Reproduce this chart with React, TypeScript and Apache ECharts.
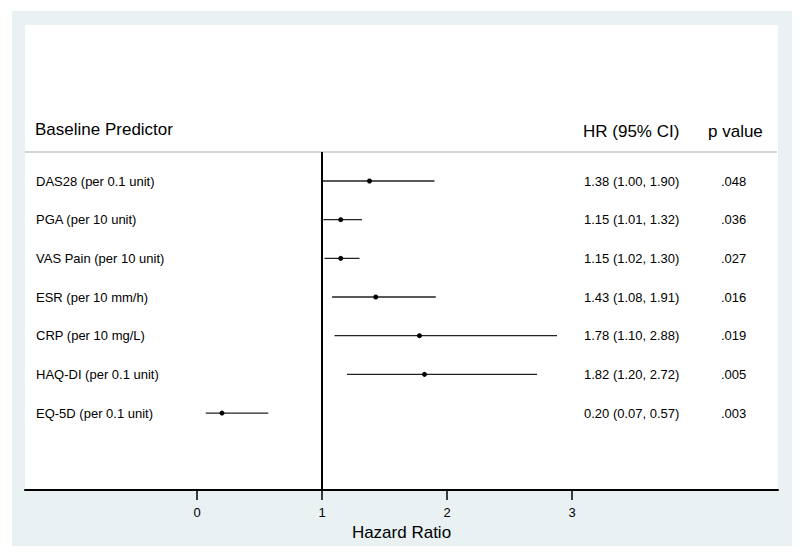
import React, { useEffect, useRef } from "react";
import * as echarts from "echarts";

const predictors = [
  "DAS28 (per 0.1 unit)",
  "PGA (per 10 unit)",
  "VAS Pain (per 10 unit)",
  "ESR (per 10 mm/h)",
  "CRP (per 10 mg/L)",
  "HAQ-DI (per 0.1 unit)",
  "EQ-5D (per 0.1 unit)",
];
const hazardRatios = [1.38, 1.15, 1.15, 1.43, 1.78, 1.82, 0.2];
const lowerCI = [1.0, 1.01, 1.02, 1.08, 1.1, 1.2, 0.07];
const upperCI = [1.9, 1.32, 1.3, 1.91, 2.88, 2.72, 0.57];
const pValues = [".048", ".036", ".027", ".016", ".019", ".005", ".003"];
const xTicks = [0, 1, 2, 3];
const referenceValue = 1;

const FONT = "'Liberation Sans', Arial, Helvetica, sans-serif";

export default function App() {
  const ref = useRef<HTMLDivElement>(null);
  useEffect(() => {
    if (!ref.current) return;
    const chart = echarts.init(ref.current, undefined, { renderer: "svg" });
    const rows = predictors.map((_, i) => [hazardRatios[i], i, lowerCI[i], upperCI[i]]);
    const headerLineV = -0.75;
    const option: any = {
      animation: false,
      backgroundColor: "#ffffff",
      textStyle: { fontFamily: FONT },
      grid: { left: 25, right: 22, top: 25, bottom: 68, containLabel: false },
      xAxis: {
        type: "value",
        min: -1.376,
        max: 4.648,
        name: "Hazard Ratio",
        nameLocation: "middle",
        nameGap: 31,
        nameTextStyle: { fontSize: 17, color: "#000", fontFamily: FONT },
        axisLine: { show: true, onZero: false, lineStyle: { color: "#000", width: 2 } },
        axisTick: { show: true, customValues: xTicks, length: 10, lineStyle: { color: "#000", width: 1.5 } },
        axisLabel: { show: true, customValues: xTicks, fontSize: 13, color: "#000", margin: 16, fontFamily: FONT },
        splitLine: { show: false },
      },
      yAxis: {
        type: "value",
        inverse: true,
        min: -4.034,
        max: 7.99,
        show: false,
        splitLine: { show: false },
      },
      graphic: [
        { type: "rect", z: -10, silent: true, shape: { x: 12, y: 11, width: 780, height: 535 }, style: { fill: "#e9f1f3" } },
        { type: "rect", z: -9, silent: true, shape: { x: 25, y: 25, width: 753, height: 465 }, style: { fill: "#ffffff" } },
        { type: "line", z: -8, silent: true, shape: { x1: 25, y1: 152, x2: 777, y2: 152 }, style: { stroke: "#c8c8c8", lineWidth: 1.5 } },
        { type: "text", x: 35, y: 129, style: { text: "Baseline Predictor", font: `17px ${FONT}`, fill: "#000", textVerticalAlign: "middle", textAlign: "left" } },
        { type: "text", x: 583, y: 131, style: { text: "HR (95% CI)", font: `17px ${FONT}`, fill: "#000", textVerticalAlign: "middle", textAlign: "left" } },
        { type: "text", x: 708, y: 131, style: { text: "p value", font: `17px ${FONT}`, fill: "#000", textVerticalAlign: "middle", textAlign: "left" } },
      ],
      series: [
        {
          type: "custom",
          clip: false,
          data: rows,
          encode: { x: [0, 2, 3], y: 1 },
          renderItem: (params: any, api: any) => {
            const i = params.dataIndex;
            const yIdx = api.value(1);
            const pLo = api.coord([api.value(2), yIdx]);
            const pHi = api.coord([api.value(3), yIdx]);
            const pMid = api.coord([api.value(0), yIdx]);
            const y = pMid[1];
            const hrText = `${hazardRatios[i].toFixed(2)} (${lowerCI[i].toFixed(2)}, ${upperCI[i].toFixed(2)})`;
            return {
              type: "group",
              children: [
                { type: "line", shape: { x1: pLo[0], y1: y, x2: pHi[0], y2: y }, style: { stroke: "#222", lineWidth: 1.3 } },
                { type: "circle", shape: { cx: pMid[0], cy: y, r: 2.5 }, style: { fill: "#000" } },
                { type: "text", style: { x: 36, y, text: predictors[i], font: `13px ${FONT}`, fill: "#000", textAlign: "left", textVerticalAlign: "middle" } },
                { type: "text", style: { x: 584, y, text: hrText, font: `13px ${FONT}`, fill: "#000", textAlign: "left", textVerticalAlign: "middle" } },
                { type: "text", style: { x: 721, y, text: pValues[i], font: `13px ${FONT}`, fill: "#000", textAlign: "left", textVerticalAlign: "middle" } },
              ],
            };
          },
          markLine: {
            silent: true,
            symbol: "none",
            label: { show: false },
            lineStyle: { color: "#000", width: 2, type: "solid" },
            data: [[{ coord: [referenceValue, headerLineV] }, { coord: [referenceValue, 7.99] }]],
          },
        },
      ],
    };
    chart.setOption(option);
    return () => chart.dispose();
  }, []);
  return <div ref={ref} style={{ position: "absolute", left: 0, top: 0, width: 800, height: 558 }} />;
}
